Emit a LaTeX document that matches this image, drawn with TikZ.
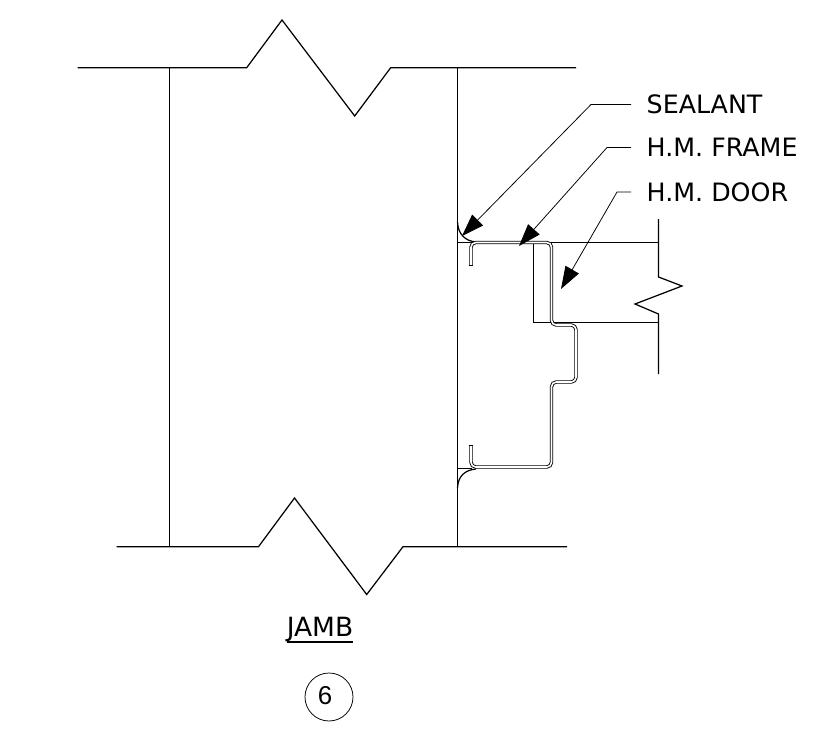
\documentclass[tikz,border=0pt]{standalone}
\usepackage{fontspec}
\setmainfont{DejaVu Sans}
\newfontfamily\numfont{Liberation Sans}
\usetikzlibrary{arrows.meta}
\tikzset{
    thin line/.style={line width=0.65pt},
    edge line/.style={line width=1.05pt},
    frame line/.style={line width=0.75pt,double,double distance=1.35pt,rounded corners=4pt},
    leader/.style={line width=0.65pt,-{Triangle[length=19pt,width=13pt]}},
    note/.style={anchor=west,inner sep=0pt,font=\fontsize{21.5}{21.5}\selectfont},
}
\begin{document}
\begin{tikzpicture}[x=0.85pt,y=-0.85pt]
    \useasboundingbox (0,0) rectangle (829,747);

    % Muro
    \draw[edge line] (77.5,67.7) -- (246.7,67.7) -- (282,20) -- (354.7,116) -- (390.7,67.7) -- (576,67.7);
    \draw[edge line] (116.5,546.7) -- (258.5,546.7) -- (294.5,498) -- (366.7,594.5) -- (403,546.7) -- (567,546.7);
    \draw[thin line] (169.5,67.7) -- (169.5,546.7);
    \draw[thin line] (457.5,67.7) -- (457.5,546.7);

    % Sigillante
    \draw[edge line] (457.5,222) .. controls (458,234) and (465,241) .. (476,242);
    \draw[edge line] (457.5,488) .. controls (458,476) and (465,470) .. (476,469);
    \draw[thin line] (457.5,242.5) -- (472,242.5);
    \draw[thin line] (457.5,468.5) -- (472,468.5);

    % Porta
    \draw[thin line] (551,242.5) -- (658.5,242.5);
    \draw[thin line] (533.5,242.5) -- (533.5,322) -- (658.5,322);
    \draw[edge line] (658.5,219) -- (658.5,277) -- (682,286) -- (635,304) -- (658.5,314) -- (658.5,374);

    % Telaio
    \draw[frame line] (471,265) -- (471,242.5) -- (551.5,242.5) -- (551.5,325) -- (576,325) -- (576,382) -- (551.5,382) -- (551.5,467) -- (471,467) -- (471,445);
    \draw[thin line] (468.7,265) -- (473.3,265);
    \draw[thin line] (468.7,445) -- (473.3,445);

    % Note
    \node[note] (sealant) at (646.5,104.5) {SEALANT};
    \node[note] (frame) at (646.5,147.5) {H.M. FRAME};
    \node[note] (door) at (646.5,192) {H.M. DOOR};
    \coordinate (sealant tip) at (462,236);
    \coordinate (frame tip) at (519,246);
    \coordinate (door tip) at (561,289);
    \draw[leader] (631,104.5) -- (591,104.5) -- (sealant tip);
    \draw[leader] (631,147.5) -- (607,147.5) -- (frame tip);
    \draw[leader] (631,192) -- (617,192) -- (door tip);

    % Titolo
    \node[inner sep=0pt,font=\fontsize{22.5}{22.5}\selectfont] (jamb) at (320,629) {JAMB};
    \draw[line width=1.7pt] ([yshift=-0.4pt]jamb.south west) -- ([yshift=-0.4pt]jamb.south east);
    \node[draw,circle,thin line,minimum size=40.8pt,inner sep=0pt] (number) at (329,697) {};
    \node[inner sep=0pt,font=\numfont\fontsize{22}{22}\selectfont] (digit) at (325,696) {6};
\end{tikzpicture}
\end{document}
